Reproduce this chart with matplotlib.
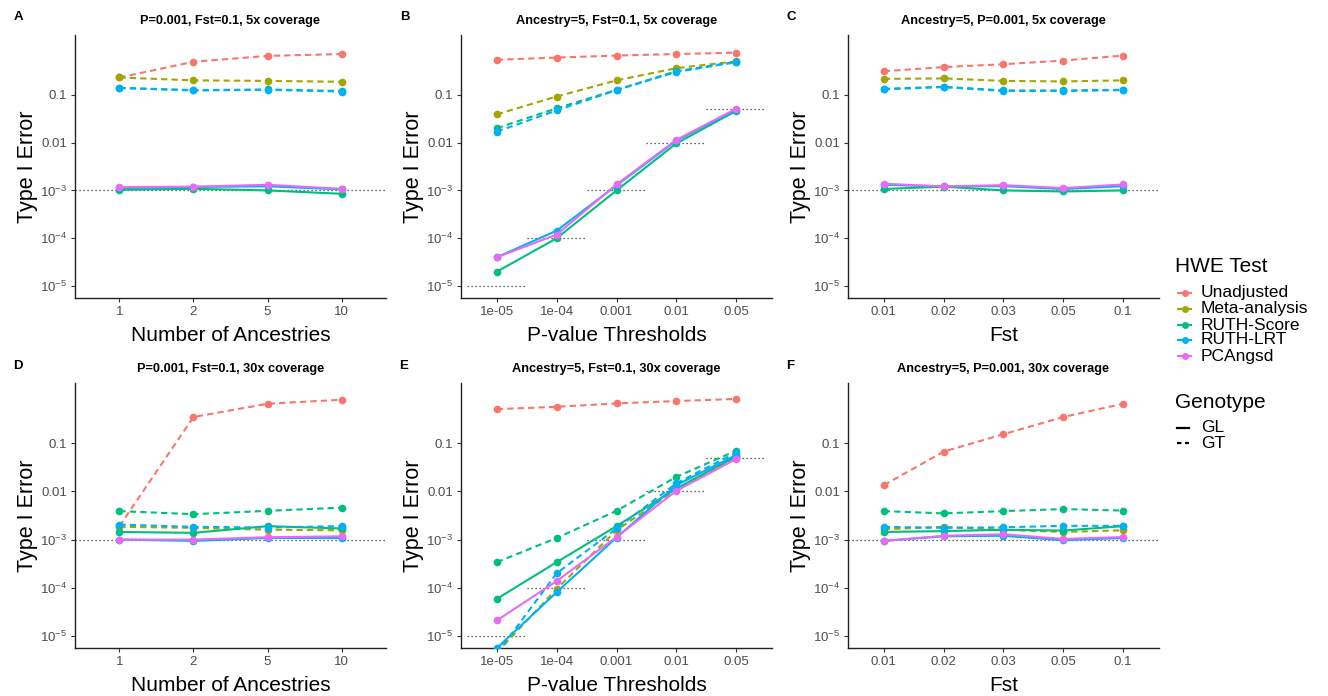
import matplotlib
matplotlib.use("Agg")
import matplotlib.pyplot as plt
from matplotlib.lines import Line2D
import numpy as np

plt.rcParams['font.family'] = ['Liberation Sans', 'DejaVu Sans']
plt.rcParams['mathtext.fontset'] = 'custom'
plt.rcParams['mathtext.rm'] = 'Liberation Sans'
plt.rcParams['mathtext.it'] = 'Liberation Sans:italic'
plt.rcParams['mathtext.bf'] = 'Liberation Sans:bold'

# ---------------- data ----------------
anc = ['1', '2', '5', '10']
pth = ['1e-05', '1e-04', '0.001', '0.01', '0.05']
fst = ['0.01', '0.02', '0.03', '0.05', '0.1']
pth_values = [1e-5, 1e-4, 1e-3, 1e-2, 0.05]

methods = ['Unadjusted', 'Meta-analysis', 'RUTH-Score', 'RUTH-LRT', 'PCAngsd']
colors = ['#F8766D', '#A3A500', '#00BF7D', '#00B0F6', '#E76BF3']

# Panel A: P=0.001, Fst=0.1, 5x
A_unadj_GT = [0.23, 0.49, 0.65, 0.71]
A_meta_GT = [0.23, 0.20, 0.195, 0.187]
A_score_GT = [0.14, 0.125, 0.129, 0.12]
A_lrt_GT = [0.138, 0.123, 0.127, 0.117]
A_score_GL = [1.03e-3, 1.08e-3, 1.0e-3, 0.85e-3]
A_lrt_GL = [1.12e-3, 1.18e-3, 1.22e-3, 1.05e-3]
A_pca_GL = [1.17e-3, 1.2e-3, 1.31e-3, 1.08e-3]

# Panel B: Ancestry=5, Fst=0.1, 5x
B_unadj_GT = [0.54, 0.60, 0.66, 0.71, 0.76]
B_meta_GT = [0.039, 0.092, 0.20, 0.36, 0.50]
B_score_GT = [0.020, 0.052, 0.127, 0.31, 0.49]
B_lrt_GT = [0.017, 0.047, 0.125, 0.30, 0.48]
B_score_GL = [2.0e-5, 1.0e-4, 1.0e-3, 0.0096, 0.046]
B_lrt_GL = [4.0e-5, 1.44e-4, 1.27e-3, 0.011, 0.049]
B_pca_GL = [4.0e-5, 1.19e-4, 1.33e-3, 0.0114, 0.051]

# Panel C: Ancestry=5, P=0.001, 5x
C_unadj_GT = [0.31, 0.38, 0.435, 0.52, 0.66]
C_meta_GT = [0.215, 0.22, 0.195, 0.19, 0.2]
C_score_GT = [0.133, 0.147, 0.123, 0.123, 0.127]
C_lrt_GT = [0.13, 0.145, 0.12, 0.12, 0.125]
C_score_GL = [1.07e-3, 1.2e-3, 1.0e-3, 0.95e-3, 1.0e-3]
C_lrt_GL = [1.31e-3, 1.21e-3, 1.23e-3, 1.07e-3, 1.23e-3]
C_pca_GL = [1.38e-3, 1.21e-3, 1.29e-3, 1.12e-3, 1.33e-3]

# Panel D: P=0.001, Fst=0.1, 30x
D_unadj_GT = [1.9e-3, 0.35, 0.66, 0.80]
D_meta_GT = [1.84e-3, 1.75e-3, 1.6e-3, 1.56e-3]
D_score_GT = [3.9e-3, 3.37e-3, 3.95e-3, 4.6e-3]
D_lrt_GT = [2.05e-3, 1.84e-3, 1.78e-3, 1.9e-3]
D_score_GL = [1.44e-3, 1.38e-3, 1.9e-3, 1.7e-3]
D_lrt_GL = [1.0e-3, 0.94e-3, 1.08e-3, 1.08e-3]
D_pca_GL = [1.0e-3, 1.0e-3, 1.12e-3, 1.17e-3]

# Panel E: Ancestry=5, Fst=0.1, 30x
E_unadj_GT = [0.51, 0.57, 0.67, 0.75, 0.83]
E_meta_GT = [4.5e-6, 9.5e-5, 1.56e-3, 0.011, 0.052]
E_score_GT = [3.4e-4, 1.08e-3, 3.95e-3, 0.020, 0.070]
E_lrt_GT = [4.3e-6, 2.0e-4, 1.7e-3, 0.0147, 0.064]
E_score_GL = [5.9e-5, 3.4e-4, 1.9e-3, 0.0115, 0.053]
E_lrt_GL = [5.6e-6, 8.1e-5, 1.1e-3, 0.0135, 0.057]
E_pca_GL = [2.1e-5, 1.38e-4, 1.13e-3, 0.0103, 0.047]

# Panel F: Ancestry=5, P=0.001, 30x
F_unadj_GT = [0.0135, 0.067, 0.154, 0.35, 0.66]
F_meta_GT = [1.64e-3, 1.84e-3, 1.6e-3, 1.44e-3, 1.56e-3]
F_score_GT = [3.9e-3, 3.5e-3, 3.9e-3, 4.3e-3, 4.0e-3]
F_lrt_GT = [1.84e-3, 1.75e-3, 1.8e-3, 1.93e-3, 1.93e-3]
F_score_GL = [1.44e-3, 1.5e-3, 1.6e-3, 1.54e-3, 1.9e-3]
F_lrt_GL = [0.94e-3, 1.17e-3, 1.2e-3, 0.97e-3, 1.08e-3]
F_pca_GL = [0.94e-3, 1.2e-3, 1.29e-3, 1.03e-3, 1.13e-3]

panels = [
    dict(letter='A', title='P=0.001, Fst=0.1, 5x coverage', cats=anc, xlabel='Number of Ancestries',
         series=[A_unadj_GT, A_meta_GT, A_score_GT, A_score_GL, A_lrt_GT, A_lrt_GL, A_pca_GL], ref='h'),
    dict(letter='B', title='Ancestry=5, Fst=0.1, 5x coverage', cats=pth, xlabel='P-value Thresholds',
         series=[B_unadj_GT, B_meta_GT, B_score_GT, B_score_GL, B_lrt_GT, B_lrt_GL, B_pca_GL], ref='seg'),
    dict(letter='C', title='Ancestry=5, P=0.001, 5x coverage', cats=fst, xlabel='Fst',
         series=[C_unadj_GT, C_meta_GT, C_score_GT, C_score_GL, C_lrt_GT, C_lrt_GL, C_pca_GL], ref='h'),
    dict(letter='D', title='P=0.001, Fst=0.1, 30x coverage', cats=anc, xlabel='Number of Ancestries',
         series=[D_unadj_GT, D_meta_GT, D_score_GT, D_score_GL, D_lrt_GT, D_lrt_GL, D_pca_GL], ref='h'),
    dict(letter='E', title='Ancestry=5, Fst=0.1, 30x coverage', cats=pth, xlabel='P-value Thresholds',
         series=[E_unadj_GT, E_meta_GT, E_score_GT, E_score_GL, E_lrt_GT, E_lrt_GL, E_pca_GL], ref='seg'),
    dict(letter='F', title='Ancestry=5, P=0.001, 30x coverage', cats=fst, xlabel='Fst',
         series=[F_unadj_GT, F_meta_GT, F_score_GT, F_score_GL, F_lrt_GT, F_lrt_GL, F_pca_GL], ref='h'),
]
# style per series index: (method index, genotype)
series_style = [(0, 'GT'), (1, 'GT'), (2, 'GT'), (2, 'GL'), (3, 'GT'), (3, 'GL'), (4, 'GL')]

# ---------------- figure ----------------
W, H = 1328, 696
fig = plt.figure(figsize=(W / 100, H / 100), dpi=100)

def fx(px):
    return px / W

def fy(py):
    return 1 - py / H

lefts = [75, 461, 848]
axw = 311
rows = [(35, 298), (383, 648)]

dash = (0, (3.0, 2.0))
for i, p in enumerate(panels):
    r, c = divmod(i, 3)
    top, bot = rows[r]
    ax = fig.add_axes([fx(lefts[c]), fy(bot), axw / W, (bot - top) / H])
    n = len(p['cats'])
    xs = np.arange(n)
    ax.set_yscale('log')
    ax.set_ylim(10 ** -5.25, 10 ** 0.25)
    ax.set_xlim(-0.6, n - 1 + 0.6)

    if p['ref'] == 'h':
        ax.axhline(1e-3, color='#333333', lw=0.9, ls=(0, (1, 2.2)), zorder=1)
    else:
        for k, v in enumerate(pth_values):
            ax.plot([k - 0.5, k + 0.5], [v, v], color='#333333', lw=0.9, ls=(0, (1, 2.2)), zorder=1)

    for s, (mi, gt) in zip(p['series'], series_style):
        ax.plot(xs, s, color=colors[mi], lw=1.5, ls=dash if gt == 'GT' else '-',
                marker='o', ms=4.5, mec=colors[mi], mfc=colors[mi], zorder=3)

    ax.set_xticks(xs)
    ax.set_xticklabels(p['cats'])
    ax.set_yticks([1e-5, 1e-4, 1e-3, 1e-2, 1e-1])
    ax.set_yticklabels([r'$10^{-5}$', r'$10^{-4}$', r'$10^{-3}$', '0.01', '0.1'])
    ax.minorticks_off()
    ax.tick_params(axis='both', which='major', length=3.0, width=0.8, color='#333333',
                   labelsize=9.5, labelcolor='#4D4D4D', pad=2.5)
    for sp in ['top', 'right']:
        ax.spines[sp].set_visible(False)
    for sp in ['left', 'bottom']:
        ax.spines[sp].set_linewidth(1.0)
        ax.spines[sp].set_color('#222222')

    h = bot - top
    ax.text(-47 / axw, 0.5, 'Type I Error', transform=ax.transAxes, rotation=90,
            ha='center', va='center', fontsize=15.5)
    ax.text(0.5, -43 / h, p['xlabel'], transform=ax.transAxes, ha='center', va='baseline',
            fontsize=15)
    ax.text(0.5, 1 + 14 / h, p['title'], transform=ax.transAxes, ha='center', va='center',
            fontsize=9.2, fontweight='bold')

letter_pos = {'A': (18, 17), 'B': (405, 17), 'C': (791, 17),
              'D': (18, 366), 'E': (404, 366), 'F': (790, 366)}
for L, (px, py) in letter_pos.items():
    fig.text(fx(px), fy(py), L, ha='center', va='center', fontsize=9.5, fontweight='bold')

# ---------------- legend ----------------
fig.text(fx(1175), fy(267), 'HWE Test', ha='left', va='center', fontsize=15)
entry_y = [293, 309, 325, 340, 356]
for name, col, y in zip(methods, colors, entry_y):
    fig.add_artist(Line2D([fx(1178), fx(1191)], [fy(y), fy(y)], color=col, lw=1.5,
                          transform=fig.transFigure))
    fig.add_artist(Line2D([fx(1184.5)], [fy(y)], color=col, marker='o', ms=4,
                          transform=fig.transFigure))
    fig.text(fx(1201), fy(y), name, ha='left', va='center', fontsize=12.5)

fig.text(fx(1175), fy(402), 'Genotype', ha='left', va='center', fontsize=15)
for name, ls, y in zip(['GL', 'GT'], ['-', (0, (2.0, 1.6))], [428, 443]):
    fig.add_artist(Line2D([fx(1177), fx(1189)], [fy(y), fy(y)], color='black', lw=1.6, ls=ls,
                          transform=fig.transFigure))
    fig.text(fx(1201), fy(y), name, ha='left', va='center', fontsize=12.5)

fig.savefig('out.png', dpi=100)
